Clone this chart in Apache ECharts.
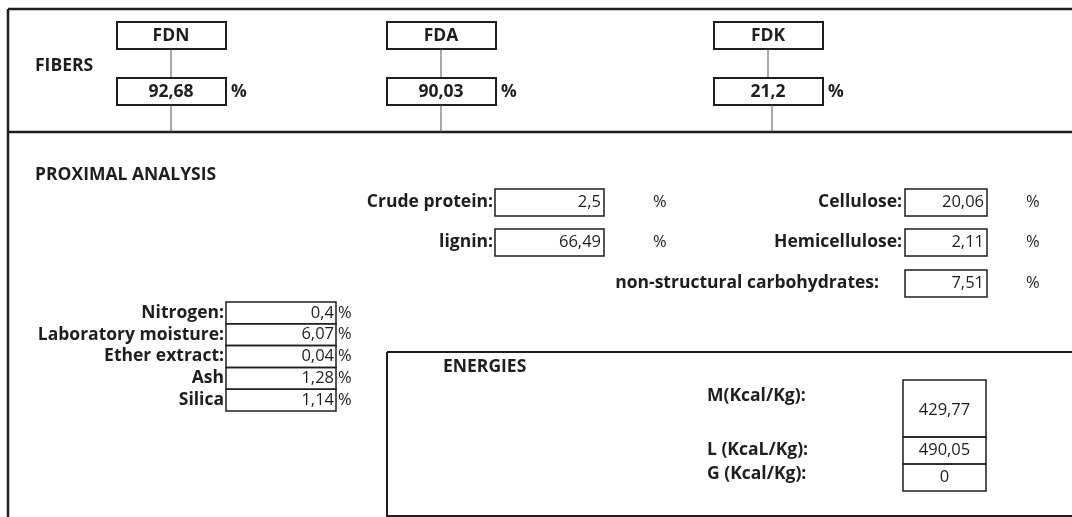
<!DOCTYPE html>
<html><head><meta charset="utf-8">
<script src="https://cdn.jsdelivr.net/npm/echarts@6/dist/echarts.min.js"></script>
<style>html,body{margin:0;padding:0;background:#fff}#c{width:1072px;height:517px}</style>
</head><body><div id="c"></div>
<script>
// ---- data ----
const fiberNames = ['FDN', 'FDA', 'FDK'];
const fiberValues = [92.68, 90.03, 21.2];
const proxLabels = ['Crude protein:', 'lignin:'];
const proxValues = [2.5, 66.49];
const carbLabels = ['Cellulose:', 'Hemicellulose:', 'non-structural carbohydrates:'];
const carbValues = [20.06, 2.11, 7.51];
const minLabels = ['Nitrogen:', 'Laboratory moisture:', 'Ether extract:', 'Ash', 'Silica'];
const minValues = [0.4, 6.07, 0.04, 1.28, 1.14];
const energyLabels = ['M(Kcal/Kg):', 'L (KcaL/Kg):', 'G (Kcal/Kg):'];
const energyValues = [429.77, 490.05, 0];
const titles = { fibers: 'FIBERS', prox: 'PROXIMAL ANALYSIS', energies: 'ENERGIES' };

// ---- layout ----
const FONT = '"Open Sans"';
const INK = '#1e1e1e';
const fmt = v => String(v).replace('.', ',');
// calibrate font sizes to a Calibri-like width
const mctx = document.createElement('canvas').getContext('2d');
function sizeFor(str, bold, target) {
  mctx.font = (bold ? 'bold ' : '') + '100px ' + FONT;
  return Math.round(100 * target / mctx.measureText(str).width * 2) / 2;
}
const BOLD = Math.min(19, Math.max(14, sizeFor('Laboratory moisture:', true, 184)));
const REG = Math.min(18, Math.max(13, sizeFor('429,77', false, 51)));

const els = [];
function line(x1, y1, x2, y2, w, c) {
  els.push({ type: 'line', shape: { x1, y1, x2, y2 }, style: { stroke: c || INK, lineWidth: w || 2 } });
}
function box(x, y, w, h, lw) {
  els.push({ type: 'rect', shape: { x, y, width: w, height: h }, style: { fill: 'none', stroke: INK, lineWidth: lw || 2 } });
}
function text(t, x, y, align, bold) {
  els.push({ type: 'text', x, y, style: { text: t, fill: INK, font: (bold ? 'bold ' + BOLD : REG) + 'px ' + FONT, textAlign: align || 'left', textVerticalAlign: 'middle' } });
}

// outer frame
line(8, 9, 1072, 9, 2.5);
line(8, 9, 8, 517, 2.5);
line(8, 132, 1072, 132, 2.5);

// fibers
text(titles.fibers, 35, 66, 'left', true);
const fiberX = [117, 387, 714];
const lowerOff = [0, 0, 4];
fiberNames.forEach((n, i) => {
  const x = fiberX[i], w = 109, cx = x + 54;
  box(x, 22, w, 27);
  text(n, cx, 36, 'center', true);
  line(cx, 49, cx, 78, 1, '#555');
  box(x, 78, w, 27);
  text(fmt(fiberValues[i]), cx, 92, 'center', true);
  text('%', x + w + 5, 92, 'left', true);
  line(cx + lowerOff[i], 105, cx + lowerOff[i], 132, 1, '#555');
});

// proximal analysis
text(titles.prox, 35, 175, 'left', true);
const proxY = [202, 242];
proxLabels.forEach((l, i) => {
  const y = proxY[i];
  text(l, 493, y, 'right', true);
  box(495, y - 13, 109, 27, 1.5);
  text(fmt(proxValues[i]), 601, y, 'right', false);
  text('%', 653, y, 'left', false);
});
const carbY = [202, 242, 283];
carbLabels.forEach((l, i) => {
  const y = carbY[i];
  text(l, i < 2 ? 902 : 879, y, 'right', true);
  box(905, y - 13, 82, 27, 1.5);
  text(fmt(carbValues[i]), 984, y, 'right', false);
  text('%', 1026, y, 'left', false);
});

// left column table
const rowH = 21.8, top0 = 302;
minLabels.forEach((l, i) => {
  const y = top0 + i * rowH;
  box(226, y, 110, rowH, 1.5);
  text(l, 224, y + rowH / 2, 'right', true);
  text(fmt(minValues[i]), 334, y + rowH / 2, 'right', false);
  text('%', 338, y + rowH / 2, 'left', false);
});

// energies
line(387, 352, 1072, 352, 2);
line(387, 352, 387, 517, 2);
line(387, 516, 1072, 516, 2);
text(titles.energies, 443, 367, 'left', true);
const eBox = [[380, 57], [437, 27], [464, 27]];
const eLabY = [396, 450, 474];
energyLabels.forEach((l, i) => {
  const [y, h] = eBox[i];
  box(903, y, 83, h, 1.5);
  text(l, 707, eLabY[i], 'left', true);
  text(fmt(energyValues[i]), 944.5, y + h / 2 + (i === 0 ? 2 : 0), 'center', false);
});

const chart = echarts.init(document.getElementById('c'), null, { renderer: 'canvas' });
chart.setOption({ animation: false, backgroundColor: '#fff', graphic: { elements: els } });
</script>
</body></html>
